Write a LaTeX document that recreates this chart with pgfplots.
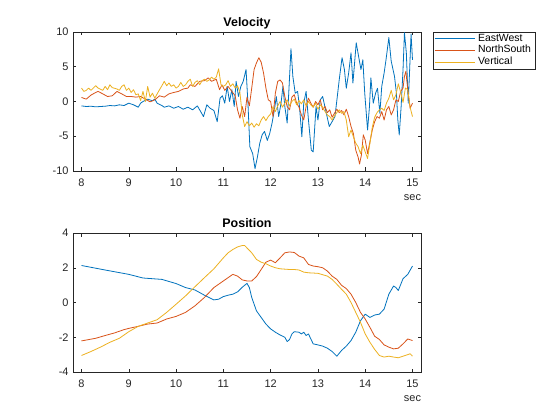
\documentclass[border=0pt]{standalone}
\usepackage{pgfplots}
\pgfplotsset{compat=1.18}
\usepackage{pgfplotstable}
\usepackage{fontspec}
\setmainfont{Liberation Sans}
\definecolor{mblue}{rgb}{0,0.447,0.741}
\definecolor{morange}{rgb}{0.85,0.325,0.098}
\definecolor{myellow}{rgb}{0.929,0.694,0.125}
\definecolor{axgray}{rgb}{0.15,0.15,0.15}

\pgfplotstableread{
t v
8.00 -0.63
8.10 -0.72
8.20 -0.68
8.30 -0.77
8.40 -0.72
8.50 -0.68
8.60 -0.58
8.70 -0.63
8.80 -0.48
8.90 -0.58
9.00 -0.24
9.10 -0.48
9.20 -0.82
9.25 -0.24
9.30 0
9.40 0.34
9.50 0.1
9.55 0.34
9.60 -0.24
9.70 -0.58
9.75 -0.82
9.85 -0.63
9.95 -0.97
10.05 -0.72
10.15 -1.11
10.25 -0.82
10.35 -1.2
10.45 -0.63
10.52 -1.45
10.58 -2.17
10.65 -0.48
10.72 -0.97
10.80 -1.3
10.87 -2.9
10.93 0.48
10.98 0.82
11.03 -0.24
11.08 2.17
11.13 0
11.18 1.7
11.23 -0.72
11.27 2.9
11.32 0.72
11.37 2.17
11.42 2.9
11.48 4.6
11.52 -0.24
11.56 -6.5
11.62 -7.5
11.67 -9.66
11.72 -8.0
11.77 -6.0
11.82 -4.8
11.87 -4.3
11.93 -5.6
11.98 -4.6
12.03 -3.1
12.08 -1.2
12.12 0.72
12.17 -2.17
12.22 -0.24
12.26 2.17
12.30 -0.72
12.35 -3.1
12.39 2.17
12.43 7.6
12.47 3.6
12.52 1.2
12.57 1.45
12.61 -0.72
12.66 -5.07
12.70 -0.24
12.75 1.45
12.80 -2.66
12.86 -7.0
12.90 -7.25
12.96 -0.72
13.00 -2.66
13.05 0.24
13.10 0.72
13.17 -1.45
13.24 -3.6
13.30 -2.9
13.36 -2.17
13.41 0.72
13.45 3.1
13.51 6.3
13.56 4.6
13.60 1.9
13.65 4.1
13.70 7.0
13.74 2.66
13.77 5.1
13.81 8.45
13.86 6.5
13.91 4.6
13.95 6.0
13.99 1.2
14.05 -4.1
14.09 -0.72
14.12 3.4
14.17 -0.24
14.22 1.2
14.26 1.9
14.31 -1.7
14.35 2.17
14.40 4.1
14.44 6.0
14.50 9.2
14.55 5.8
14.62 3.6
14.66 1.2
14.69 -2.66
14.72 -4.8
14.76 -0.72
14.80 4.6
14.83 9.9
14.87 7.0
14.91 -0.24
14.94 4.6
14.97 9.7
15.00 6.0
}\velEW

\pgfplotstableread{
t v
8.00 0.58
8.10 0.34
8.20 0.92
8.30 1.3
8.35 1.45
8.45 1.1
8.55 0.72
8.65 0.82
8.75 1.45
8.85 1.1
8.95 0.72
9.05 0.72
9.15 0.63
9.25 0.72
9.35 0.34
9.45 -0.05
9.55 0.24
9.65 0.82
9.75 0.63
9.85 1.1
9.95 1.3
10.05 1.45
10.15 1.8
10.25 1.93
10.30 2.4
10.40 2.17
10.50 2.9
10.60 3.0
10.68 3.4
10.75 2.9
10.85 3.2
10.92 1.7
10.97 2.4
11.03 1.6
11.10 2.17
11.18 1.45
11.25 0.82
11.30 -1.2
11.35 -2.4
11.40 -0.72
11.45 -2.17
11.50 0.63
11.55 -0.63
11.60 1.93
11.65 4.6
11.70 5.55
11.75 6.3
11.80 5.65
11.85 4.1
11.90 1.93
11.95 0.24
12.00 0
12.05 -2.17
12.10 1.2
12.15 2.9
12.20 3.1
12.25 2.66
12.30 0.72
12.35 -0.72
12.40 -1.2
12.45 0.63
12.50 0.97
12.55 -0.24
12.60 -0.82
12.65 -1.93
12.70 -2.66
12.75 -0.72
12.80 0.48
12.85 -0.24
12.90 -0.82
12.95 0
13.00 -0.48
13.05 0.24
13.10 -1.2
13.15 -0.72
13.20 -1.6
13.25 -1.2
13.30 -2.27
13.35 -1.7
13.40 -1.11
13.45 -1.6
13.50 -1.3
13.55 -1.93
13.60 -1.11
13.65 -2.17
13.70 -3.6
13.75 -4.6
13.80 -7.0
13.85 -8.0
13.88 -9.0
13.92 -7.7
13.96 -4.8
14.00 -5.55
14.05 -7.5
14.10 -5.8
14.15 -4.1
14.20 -2.9
14.25 -2.17
14.30 -2.4
14.35 -1.45
14.40 -2.66
14.45 -1.2
14.50 -0.72
14.55 -1.93
14.60 -1.2
14.65 0.24
14.70 0
14.75 1.45
14.80 1.93
14.83 3.6
14.86 4.35
14.90 1.7
14.95 -0.97
15.00 -0.24
}\velNS

\pgfplotstableread{
t v
8.00 1.93
8.05 1.45
8.10 1.6
8.15 1.93
8.20 1.6
8.30 2.27
8.35 1.93
8.45 1.6
8.50 2.17
8.55 1.7
8.60 2.4
8.65 2.0
8.75 1.8
8.80 1.6
8.85 2.17
8.90 2.4
8.95 1.6
9.00 1.93
9.05 1.3
9.10 1.7
9.15 0.97
9.20 1.1
9.25 0.14
9.30 1.45
9.35 0
9.40 2.17
9.45 0.63
9.50 1.2
9.55 0.48
9.60 1.1
9.65 1.7
9.70 2.27
9.75 2.9
9.80 2.27
9.85 2.66
9.90 2.17
9.95 2.4
10.00 1.93
10.05 2.17
10.10 2.75
10.15 2.17
10.20 2.4
10.25 2.9
10.30 3.2
10.35 2.17
10.40 2.75
10.45 3.0
10.50 2.4
10.55 3.0
10.60 3.2
10.65 2.9
10.70 3.1
10.75 3.5
10.80 3.2
10.85 3.5
10.90 4.7
10.95 2.4
11.00 2.17
11.05 2.4
11.10 3.0
11.15 2.17
11.20 2.55
11.25 1.93
11.30 2.27
11.35 1.3
11.40 -1.93
11.45 -3.6
11.50 -2.9
11.55 -3.5
11.60 -3.1
11.65 -3.7
11.70 -3.2
11.75 -3.5
11.80 -2.66
11.85 -2.17
11.90 -2.75
11.95 -2.17
12.00 -1.8
12.05 -0.72
12.10 -1.45
12.15 -0.63
12.20 0
12.25 -0.82
12.30 -0.24
12.35 0.24
12.40 -0.63
12.45 0
12.50 0.34
12.55 -0.48
12.60 0.14
12.65 -0.34
12.70 0.24
12.75 -0.63
12.80 0
12.85 -0.48
12.90 -0.82
12.95 -0.24
13.00 -1.11
13.05 -0.48
13.10 -0.82
13.15 -1.45
13.20 -1.93
13.25 -2.17
13.30 -2.66
13.35 -2.08
13.40 -1.6
13.45 -1.2
13.50 -1.7
13.55 -1.45
13.60 -2.66
13.65 -5.07
13.70 -4.1
13.75 -5.07
13.80 -6.0
13.85 -6.5
13.90 -7.5
13.95 -6.3
14.00 -7.25
14.05 -8.2
14.10 -6.0
14.15 -3.7
14.20 -2.27
14.25 -1.6
14.30 -1.2
14.35 -0.97
14.40 -1.3
14.45 -0.24
14.50 0.48
14.55 1.6
14.60 0.24
14.65 0.97
14.70 2.55
14.75 1.3
14.80 -0.14
14.85 1.93
14.90 1.7
14.95 -0.82
15.00 -2.17
}\velV

\pgfplotstableread{
t p
8.0 2.13
8.5 1.87
9.0 1.62
9.3 1.41
9.5 1.37
9.7 1.33
10.0 1.09
10.2 0.86
10.4 0.72
10.6 0.42
10.8 0.15
10.9 0.19
11.0 0.34
11.1 0.42
11.2 0.48
11.3 0.61
11.4 0.88
11.5 1.10
11.55 0.86
11.6 0.29
11.7 -0.48
11.8 -0.86
11.9 -1.24
12.0 -1.52
12.1 -1.71
12.2 -1.87
12.3 -2.0
12.35 -2.25
12.4 -2.13
12.45 -1.81
12.5 -1.68
12.6 -1.71
12.65 -1.81
12.7 -1.71
12.75 -1.9
12.8 -1.81
12.9 -2.38
13.0 -2.44
13.1 -2.51
13.2 -2.63
13.3 -2.82
13.4 -3.09
13.5 -2.76
13.6 -2.51
13.7 -2.19
13.8 -1.71
13.9 -1.05
14.0 -0.67
14.1 -0.86
14.2 -0.72
14.3 -0.67
14.4 -0.38
14.5 0.48
14.6 0.95
14.65 0.86
14.7 0.69
14.8 1.37
14.9 1.62
15.0 2.1
}\posEW

\pgfplotstableread{
t p
8.0 -2.21
8.3 -2.06
8.5 -1.9
8.7 -1.75
8.9 -1.56
9.0 -1.49
9.2 -1.37
9.4 -1.24
9.6 -1.18
9.8 -0.95
10.0 -0.8
10.2 -0.57
10.4 -0.19
10.6 0.29
10.8 0.86
11.0 1.24
11.1 1.43
11.2 1.62
11.3 1.52
11.4 1.3
11.5 1.24
11.6 1.24
11.7 1.49
11.8 1.9
11.9 2.32
12.0 2.44
12.1 2.29
12.2 2.57
12.3 2.86
12.4 2.91
12.5 2.88
12.6 2.67
12.7 2.57
12.8 2.19
12.9 2.1
13.0 2.06
13.1 2.0
13.2 1.81
13.3 1.52
13.4 1.33
13.5 0.99
13.6 0.8
13.7 0.48
13.8 0
13.9 -0.57
14.0 -0.95
14.1 -1.43
14.2 -1.94
14.3 -2.13
14.4 -2.44
14.5 -2.57
14.6 -2.67
14.7 -2.63
14.8 -2.38
14.9 -2.1
15.0 -2.19
}\posNS

\pgfplotstableread{
t p
8.0 -3.05
8.2 -2.82
8.4 -2.57
8.6 -2.29
8.8 -2.06
9.0 -1.68
9.2 -1.37
9.4 -1.18
9.6 -0.99
9.8 -0.57
10.0 -0.1
10.2 0.38
10.4 0.91
10.6 1.43
10.8 1.94
11.0 2.57
11.1 2.86
11.2 3.05
11.3 3.2
11.4 3.28
11.45 3.28
11.5 3.14
11.6 2.86
11.7 2.48
11.8 2.32
11.9 2.23
12.0 2.1
12.1 2.0
12.2 1.94
12.4 1.9
12.5 1.9
12.6 1.87
12.7 1.75
12.8 1.71
13.0 1.68
13.2 1.52
13.3 1.33
13.4 1.05
13.5 0.76
13.6 0.48
13.7 0
13.8 -0.57
13.9 -1.14
14.0 -1.81
14.1 -2.29
14.2 -2.7
14.3 -3.05
14.4 -3.14
14.5 -3.09
14.6 -3.14
14.7 -3.18
14.8 -3.09
14.9 -3.0
14.95 -2.95
15.0 -3.09
}\posV

\pgfplotsset{
  mstyle/.style={
    scale only axis, anchor=south west,
    width=348bp, height=139bp,
    xmin=7.82, xmax=15.18,
    xtick={8,9,...,15},
    axis line style={axgray, line width=0.5bp},
    every tick/.style={axgray, line width=0.5bp},
    major tick length=3.5bp,
    tick align=inside,
    /pgf/number format/assume math mode=true,
    tick label style={font=\fontsize{11}{13}\selectfont, text=axgray},
    xticklabel style={anchor=base, inner sep=0pt, yshift=-15.7bp},
    yticklabel style={anchor=east, inner sep=0pt, xshift=-4.3bp},
    every axis title shift=0pt,
    title style={font=\bfseries\fontsize{12.5}{14}\selectfont, text=black, anchor=base, inner sep=0pt, yshift=5.6bp},
    xlabel={sec},
    xlabel style={font=\fontsize{11}{13}\selectfont, text=axgray, at={(axis description cs:0.9755,0)}, anchor=base, inner sep=0pt, yshift=-29.5bp},
    every axis plot/.append style={line width=0.8bp, line join=round},
  }
}

\begin{document}
\begin{tikzpicture}
\path[use as bounding box, fill=white] (0,0) rectangle (560bp,420bp);
\begin{axis}[mstyle, at={(73bp,249bp)},
  ymin=-10, ymax=10, ytick={-10,-5,0,5,10},
  title={Velocity},
  legend style={at={(1.0345,1.002)}, anchor=north west, draw=axgray, line width=0.5bp,
    font=\fontsize{10.5}{12}\selectfont, inner xsep=1bp, inner ysep=1bp, row sep=0pt,
    nodes={inner xsep=3bp, inner ysep=1.1bp, text height=7.2bp, text depth=2.2bp}},
  legend cell align=left,
  legend image code/.code={\draw[#1, line width=0.8bp] (0bp,0bp) -- (40bp,0bp);},
]
\addplot[mblue] table[x=t,y=v] {\velEW};
\addplot[morange] table[x=t,y=v] {\velNS};
\addplot[myellow] table[x=t,y=v] {\velV};
\legend{EastWest,NorthSouth,Vertical}
\end{axis}
\begin{axis}[mstyle, at={(73bp,48bp)},
  ymin=-4, ymax=4, ytick={-4,-2,0,2,4},
  title={Position},
]
\addplot[mblue] table[x=t,y=p] {\posEW};
\addplot[morange] table[x=t,y=p] {\posNS};
\addplot[myellow] table[x=t,y=p] {\posV};
\end{axis}
\end{tikzpicture}
\end{document}
